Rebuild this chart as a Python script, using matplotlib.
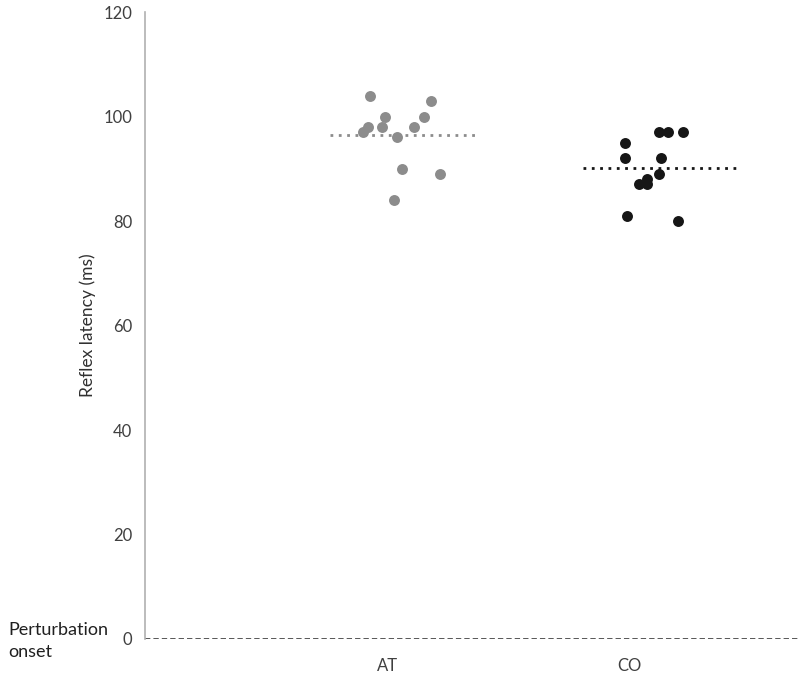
import matplotlib.pyplot as plt
import numpy as np

plt.rcParams['font.family'] = ['Lato', 'DejaVu Sans']

groups = ['AT', 'CO']

# reflex latencies (ms)
at_vals = [104, 103, 100, 100, 98, 98, 98, 97, 96, 90, 89, 84]
co_vals = [97, 97, 97, 95, 92, 92, 89, 88, 87, 87, 81, 80]

# horizontal scatter offsets from each category centre
at_jit = [-0.07, 0.18, -0.01, 0.15, -0.08, -0.02, 0.11, -0.10, 0.04, 0.06, 0.22, 0.03]
co_jit = [0.12, 0.16, 0.22, -0.02, -0.02, 0.13, 0.12, 0.07, 0.04, 0.07, -0.01, 0.20]

fig = plt.figure(figsize=(8, 6.8), dpi=100)
ax = fig.add_axes([0.181, 0.0603, 0.818, 0.922])

ax.scatter(1 + np.array(at_jit), at_vals, s=62, color='#8c8c8c', zorder=3, linewidths=0)
ax.scatter(2 + np.array(co_jit), co_vals, s=62, color='#161616', zorder=3, linewidths=0)

# mean lines
ax.plot([0.765, 1.383], [np.mean(at_vals)] * 2, linestyle=(0, (1, 2)), color='#8c8c8c', lw=2)
ax.plot([1.807, 2.444], [np.mean(co_vals)] * 2, linestyle=(0, (1, 2)), color='#161616', lw=2)

# perturbation onset line
ax.axhline(0, color='#2a2a2a', lw=1.1, linestyle=(0, (3.5, 2)), zorder=2)

ax.set_xlim(0, 2.70)
ax.set_ylim(0, 120)
ax.set_yticks(range(0, 121, 20))
ax.set_xticks([1, 2])
ax.set_xticklabels(groups)
ax.tick_params(length=0, labelsize=12, colors='#404040')
ax.tick_params(axis='y', pad=9)
ax.tick_params(axis='x', pad=14)

for s in ['top', 'right', 'bottom']:
    ax.spines[s].set_visible(False)
ax.spines['left'].set_color('#b0b0b0')
ax.spines['left'].set_linewidth(1.2)

ax.set_ylabel('Reflex latency (ms)', fontsize=12.5, color='#303030', labelpad=5)

fig.text(0.01, 0.057, 'Perturbation\nonset', fontsize=13, color='#202020',
         ha='left', va='center', linespacing=1.45)

fig.savefig('out.png', dpi=100)
